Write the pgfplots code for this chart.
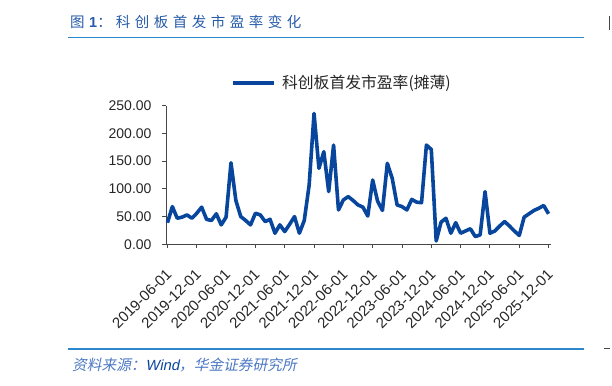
\documentclass[border=0pt]{standalone}
\usepackage{fontspec}
\usepackage{pgfplots}
\pgfplotsset{compat=1.18}
\setmainfont{Liberation Sans}
\newfontfamily\cjk{Noto Sans CJK SC}
\newfontfamily\cjkit{Noto Sans CJK SC}[FakeSlant=0.2]
\newfontfamily\arialit{Liberation Sans}[FakeSlant=0.2]
\definecolor{lineblue}{RGB}{8,70,158}
\definecolor{titleblue}{RGB}{40,92,170}
\definecolor{rule}{RGB}{45,135,205}
\definecolor{axgray}{RGB}{70,70,70}
\definecolor{txt}{RGB}{38,38,38}
\definecolor{foot}{RGB}{75,120,195}
\pgfplotstableread{
i v
0 39
1 68
2 47
3 49
4 53
5 47
6 56
7 67
8 45
9 43
10 55
11 35
12 49
13 147
14 79
15 50
16 43
17 35
18 56
19 53
20 41
21 45
22 20
23 35
24 23
25 36
26 50
27 20
28 43
29 107
30 236
31 137
32 167
33 95
34 179
35 62
36 80
37 86
38 79
39 71
40 67
41 51
42 116
43 78
44 61
45 146
46 119
47 71
48 68
49 62
50 81
51 76
52 75
53 179
54 171
55 6
56 40
57 47
58 20
59 39
60 20
61 24
62 28
63 14
64 17
65 95
66 20
67 24
68 33
69 41
70 33
71 24
72 16
73 49
74 55
75 61
76 65
77 70
78 55
}\pedata
\begin{document}
\begin{tikzpicture}
\path[use as bounding box] (0,0) rectangle (612bp,386bp);
% title
\node[anchor=west, inner sep=0pt, text=titleblue, font=\fontsize{14.5bp}{16bp}\selectfont] at (70bp,364.5bp)
{{\cjk 图}\kern4.5bp\textbf{1}{\cjk ：}\kern4bp{\cjk 科\kern4.5bp 创\kern4.5bp 板\kern4.5bp 首\kern4.5bp 发\kern4.5bp 市\kern4.5bp 盈\kern4.5bp 率\kern4.5bp 变\kern4.5bp 化}};
\draw[rule, line width=1.4bp] (68bp,348.7bp) -- (584bp,348.7bp);
% footer
\draw[rule, line width=1.4bp] (68bp,37bp) -- (584bp,37bp);
\node[anchor=west, inner sep=0pt, font=\fontsize{14.7bp}{16bp}\selectfont] at (72bp,21bp)
{\textcolor{foot}{\cjkit 资料来源：}\textcolor{lineblue}{\arialit Wind}\textcolor{foot}{\cjkit ，华金证券研究所}};
% right-edge fragments
\draw[axgray, line width=1bp] (609bp,356bp) -- (609bp,370bp);
\draw[axgray, line width=0.8bp] (604bp,38bp) -- (610bp,38bp);
\begin{axis}[
  at={(166bp,141.7bp)}, anchor=south west,
  scale only axis, width=385bp, height=138.6bp,
  xmin=-0.3, xmax=78.5, ymin=0, ymax=250,
  axis x line=bottom, axis y line=left,
  axis line style={-, axgray, line width=0.9bp},
  tick align=outside, major tick length=4bp,
  tick style={axgray, line width=0.9bp},
  xtick={0,6,...,78},
  xticklabels={2019-06-01,2019-12-01,2020-06-01,2020-12-01,2021-06-01,2021-12-01,2022-06-01,2022-12-01,2023-06-01,2023-12-01,2024-06-01,2024-12-01,2025-06-01,2025-12-01},
  ytick={0,50,...,250},
  yticklabels={0.00,50.00,100.00,150.00,200.00,250.00},
  xticklabel style={xshift=4bp, yshift=-21bp, rotate=45, anchor=east, text=txt, font=\fontsize{15bp}{17bp}\selectfont},
  yticklabel style={xshift=-7bp, text=txt, font=\fontsize{14bp}{16bp}\selectfont},
  legend style={at={(0.455,1.164)}, anchor=center, draw=none, fill=none, inner sep=0pt,
    font=\fontsize{15.8bp}{17bp}\selectfont\cjk, text=txt, column sep=6bp, nodes={inner sep=0pt}},
  legend image code/.code={\draw[line width=3.6bp] (0bp,0bp) -- (41bp,0bp);},
  clip=false,
]
\addplot[lineblue, line width=3.6bp, line join=round] table[x=i, y=v] {\pedata};
\addlegendentry{科创板首发市盈率(摊薄)}
\end{axis}
\end{tikzpicture}
\end{document}
